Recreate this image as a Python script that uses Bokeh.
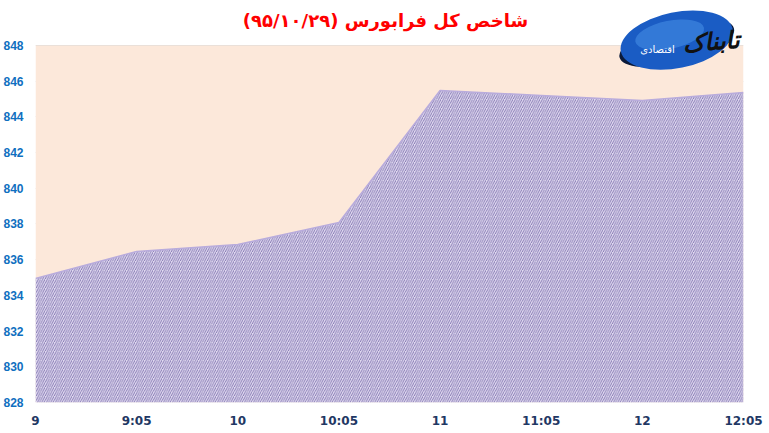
from bokeh.plotting import figure
from bokeh.models import Range1d, FixedTicker, BoxAnnotation, ColumnDataSource
from bokeh.core.properties import value
from bokeh.embed import file_html
from bokeh.resources import INLINE

# ---- data ----
times = ["9", "9:05", "10", "10:05", "11", "11:05", "12", "12:05"]
index_values = [834.95, 836.46, 836.85, 838.08, 845.48, 845.20, 844.92, 845.37]
y_ticks = [828, 830, 832, 834, 836, 838, 840, 842, 844, 846, 848]
title_text = "شاخص کل فرابورس (۹۵/۱۰/۲۹)"
y_min, y_max = 828, 848

xs = list(range(len(times)))
src = ColumnDataSource(dict(x=xs, y=index_values, base=[y_min] * len(xs)))

p = figure(width=765, height=431, output_backend="svg", toolbar_location=None,
           x_range=Range1d(0, len(times) - 1), y_range=Range1d(y_min, 850.52),
           min_border_left=35, min_border_right=22, min_border_top=0,
           min_border_bottom=29)
p.outline_line_color = None
p.background_fill_color = "white"
p.border_fill_color = "white"

# peach plot background only within 828..848
p.add_layout(BoxAnnotation(bottom=y_min, top=y_max, fill_color="#fce8da",
                           fill_alpha=1, line_color=None, level="underlay"))

# area
p.varea(x="x", y1="base", y2="y", source=src, fill_color="#e0daf0",
        hatch_pattern="right_diagonal_line", hatch_color="#6a5aa0",
        hatch_scale=4.5, hatch_weight=0.75)
p.line(x="x", y="y", source=src, line_color="#b9acdc", line_width=1.5)

# axes
p.xaxis.ticker = FixedTicker(ticks=xs)
p.xaxis.major_label_overrides = {i: t for i, t in enumerate(times)}
p.xaxis.major_label_text_font = "DejaVu Sans"
p.xaxis.major_label_text_font_style = "bold"
p.xaxis.major_label_text_font_size = "12px"
p.xaxis.major_label_text_color = "#1f3864"
p.xaxis.major_label_standoff = 11
p.yaxis.ticker = FixedTicker(ticks=y_ticks)
p.yaxis.major_label_text_font = "Liberation Sans"
p.yaxis.major_label_text_font_style = "bold"
p.yaxis.major_label_text_font_size = "12px"
p.yaxis.major_label_text_color = "#0f6fc0"
p.yaxis.major_label_standoff = 12
for ax in (p.xaxis, p.yaxis):
    ax.axis_line_color = None
    ax.major_tick_line_color = None
    ax.minor_tick_line_color = None
    ax.major_tick_out = 0
    ax.major_tick_in = 0
    ax.minor_tick_out = 0
    ax.minor_tick_in = 0
    ax.axis_label_standoff = 0

p.xgrid.grid_line_color = None
p.ygrid.grid_line_color = "#d9d9d9"
p.ygrid.grid_line_width = 1

# title
p.text(x=[3.46], y=[849.4], text=[title_text], text_font=value("DejaVu Sans"),
       text_font_style="bold", text_font_size="18px", text_color="#ff0000",
       text_align="center", text_baseline="middle")

# logo (approximation)
p.ellipse(x=[6.34], y=[848.15], width=[118], height=[40], width_units="screen",
          height_units="screen", angle=0.25, fill_color="#0b1a3a", line_color=None)
p.ellipse(x=[6.34], y=[848.3], width=[114], height=[56], width_units="screen",
          height_units="screen", angle=0.2, fill_color="#1a5cc4", line_color=None)
p.ellipse(x=[6.27], y=[848.6], width=[70], height=[28], width_units="screen",
          height_units="screen", angle=0.2, fill_color="#3f86e0", line_color=None,
          fill_alpha=0.7)
p.text(x=[6.68], y=[848.2], text=["تابناک"], text_font=value("DejaVu Sans"),
       text_font_style="bold italic", text_font_size="24px", text_color="#111111",
       text_align="center", text_baseline="middle", angle=0.08)
p.text(x=[6.15], y=[847.8], text=["اقتصادی"], text_font=value("DejaVu Sans"),
       text_font_size="10px", text_color="#ffffff",
       text_align="center", text_baseline="middle")

open("out.html", "w").write(file_html(p, INLINE))
